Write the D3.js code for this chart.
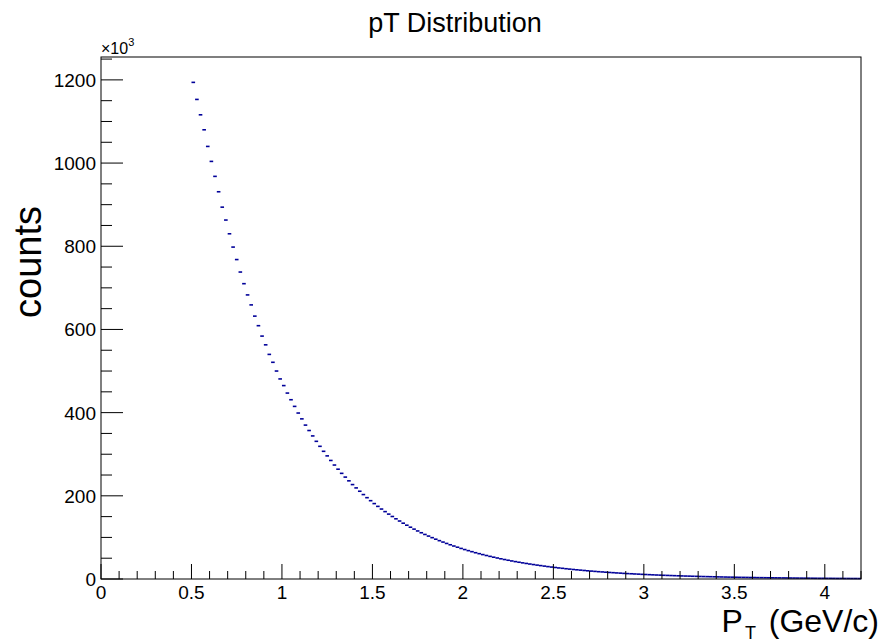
<!DOCTYPE html>
<html>
<head>
<meta charset="utf-8">
<script src="https://cdn.jsdelivr.net/npm/d3@7"></script>
<style>
  body { margin: 0; background: #fff; }
  text { font-family: "Liberation Sans", Arial, sans-serif; fill: #000; }
</style>
</head>
<body>
<div id="chart"></div>
<script>
// histogram: pT bins of 0.02 GeV/c starting at 0.5, counts in units of 10^3
const binStart = 0.5;
const binWidth = 0.02;
const counts = [
  1194, 1153, 1116, 1080, 1040, 1004, 968, 931, 894, 863,
  830, 798, 768, 738, 710, 683, 659, 632, 609, 584,
  563, 540, 521, 500, 481, 465, 447, 431, 415, 399,
  385, 370, 357, 344, 331, 319, 307, 296, 285, 274,
  264, 254, 245, 236, 227, 219, 211, 203, 195.5, 188.3,
  181.3, 174.6, 168.2, 162.0, 156.0, 150.3, 144.7, 139.4, 134.2, 129.3,
  124.5, 119.9, 115.5, 111.2, 107.1, 103.2, 99.4, 95.7, 92.2, 88.8,
  85.5, 82.3, 79.3, 76.4, 73.5, 70.8, 68.2, 65.7, 63.2, 60.9,
  58.7, 56.5, 54.4, 52.4, 50.5, 48.6, 46.8, 45.1, 43.4, 41.8,
  40.3, 38.8, 37.4, 36.0, 34.7, 33.4, 32.2, 31.0, 29.8, 28.7,
  27.7, 26.6, 25.7, 24.7, 23.8, 22.9, 22.1, 21.3, 20.5, 19.7,
  19.0, 18.3, 17.6, 17.0, 16.3, 15.7, 15.2, 14.6, 14.1, 13.5,
  13.0, 12.6, 12.1, 11.7, 11.2, 10.8, 10.4, 10.0, 9.6, 9.3,
  8.9, 8.6, 8.3, 8.0, 7.7, 7.4, 7.1, 6.9, 6.6, 6.4,
  6.1, 5.9, 5.7, 5.5, 5.3, 5.1, 4.9, 4.7, 4.5, 4.4,
  4.2, 4.0, 3.9, 3.8, 3.6, 3.5, 3.3, 3.2, 3.1, 3.0,
  2.9, 2.8, 2.7, 2.6, 2.5, 2.4, 2.3, 2.2, 2.1, 2.0,
  2.0, 1.9, 1.8, 1.7, 1.7, 1.6, 1.6, 1.5, 1.4, 1.4,
  1.3, 1.3, 1.2, 1.2, 1.1
];
const xDomain = [0, 4.2];
const yDomain = [0, 1255];
const xTicks = [0, 0.5, 1, 1.5, 2, 2.5, 3, 3.5, 4];
const yTicks = [0, 200, 400, 600, 800, 1000, 1200];
const title = "pT Distribution";
const yLabel = "counts";

const width = 884, height = 644;
const margin = { top: 57, right: 23, bottom: 65, left: 101 };
const iw = width - margin.left - margin.right;
const ih = height - margin.top - margin.bottom;

const svg = d3.select("#chart").append("svg")
  .attr("width", width)
  .attr("height", height);

const x = d3.scaleLinear().domain(xDomain).range([margin.left, margin.left + iw]);
const y = d3.scaleLinear().domain(yDomain).range([margin.top + ih, margin.top]);

const bins = counts.map((c, i) => ({
  lo: binStart + i * binWidth,
  hi: binStart + (i + 1) * binWidth,
  v: c
}));

// histogram bins as short horizontal segments
svg.append("g")
  .selectAll("line")
  .data(bins)
  .join("line")
  .attr("x1", d => x(d.lo))
  .attr("x2", d => x(d.hi))
  .attr("y1", d => y(d.v))
  .attr("y2", d => y(d.v))
  .attr("stroke", "#000099")
  .attr("stroke-width", 1.6);

// frame
svg.append("rect")
  .attr("x", margin.left)
  .attr("y", margin.top)
  .attr("width", iw)
  .attr("height", ih)
  .attr("fill", "none")
  .attr("stroke", "#000")
  .attr("stroke-width", 1);

// x axis ticks (inside)
const xMinor = d3.range(0, 4.2001, 0.1);
svg.append("g")
  .selectAll("line")
  .data(xMinor)
  .join("line")
  .attr("x1", d => x(d))
  .attr("x2", d => x(d))
  .attr("y1", y(0))
  .attr("y2", d => y(0) - (Math.abs(d * 2 - Math.round(d * 2)) < 1e-6 ? 15 : 8))
  .attr("stroke", "#000");

svg.append("g")
  .selectAll("text")
  .data(xTicks)
  .join("text")
  .attr("x", d => x(d))
  .attr("y", y(0) + 20)
  .attr("text-anchor", "middle")
  .attr("font-size", 19)
  .text(d => d);

// y axis ticks (inside)
const yMinor = d3.range(0, 1255, 50);
svg.append("g")
  .selectAll("line")
  .data(yMinor)
  .join("line")
  .attr("x1", x(0))
  .attr("x2", d => x(0) + (d % 200 === 0 ? 22 : 11))
  .attr("y1", d => y(d))
  .attr("y2", d => y(d))
  .attr("stroke", "#000");

svg.append("g")
  .selectAll("text")
  .data(yTicks)
  .join("text")
  .attr("x", x(0) - 5)
  .attr("y", d => y(d) + 7)
  .attr("text-anchor", "end")
  .attr("font-size", 19)
  .text(d => d);

// exponent label
const exp = svg.append("text")
  .attr("x", x(0))
  .attr("y", margin.top - 3)
  .attr("font-size", 16);
exp.append("tspan").text("\u00d710");
exp.append("tspan").attr("font-size", 11).attr("dy", -8).text("3");

// title
svg.append("text")
  .attr("x", 455)
  .attr("y", 32)
  .attr("text-anchor", "middle")
  .attr("font-size", 27)
  .text(title);

// y label
svg.append("text")
  .attr("transform", "translate(41, 262) rotate(-90)")
  .attr("text-anchor", "middle")
  .attr("font-size", 38)
  .text(yLabel);

// x label
const xl = svg.append("text")
  .attr("x", 879)
  .attr("y", 632)
  .attr("text-anchor", "end")
  .attr("font-size", 32);
xl.append("tspan").text("P");
xl.append("tspan").attr("font-size", 18).attr("dx", 2).attr("dy", 7).text("T");
xl.append("tspan").attr("dx", 4).attr("dy", -7).text(" (GeV/c)");
</script>
</body>
</html>
